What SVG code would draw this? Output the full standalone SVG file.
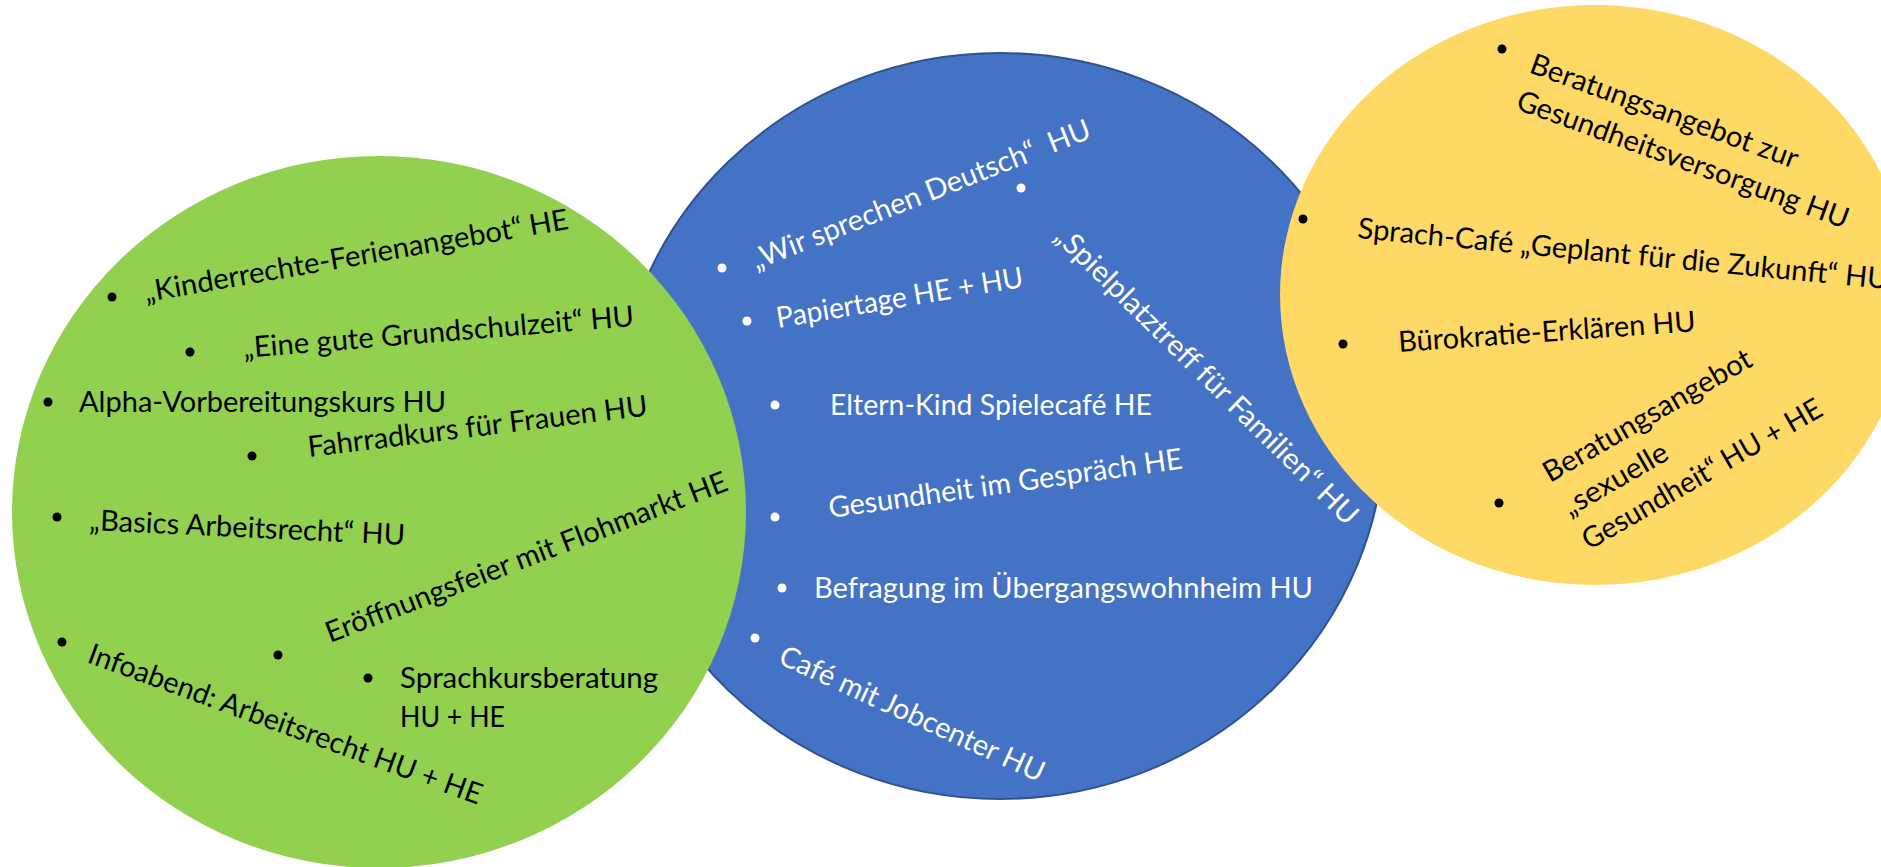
<svg xmlns="http://www.w3.org/2000/svg" width="1881" height="867" viewBox="0 0 1881 867">
<style>
.t{font-family:Lato,"Liberation Sans",sans-serif;font-size:29px}
.dk{fill:#000}
.wt{fill:#fff}
</style>
<rect width="1881" height="867" fill="#fff"/>
<g id="connectors"/>
<g id="node-blue">
<ellipse cx="1000" cy="426" rx="385" ry="373" fill="#4472C4" stroke="#2F528F" stroke-width="2"/>
<g class="wt">
<circle cx="722" cy="268" r="4.5"/>
<circle cx="1021" cy="188" r="4.5"/>
<circle cx="747" cy="321" r="4.5"/>
<circle cx="775" cy="405" r="4.5"/>
<circle cx="775" cy="517" r="4.5"/>
<circle cx="782" cy="588" r="4.5"/>
<circle cx="755" cy="638" r="4.5"/>
</g>
<text class="t wt" xml:space="preserve" transform="translate(756,270) rotate(-21.5)" textLength="362" lengthAdjust="spacingAndGlyphs">„Wir sprechen Deutsch“  HU</text>
<text class="t wt" transform="translate(1053,238) rotate(44.5)" textLength="412" lengthAdjust="spacingAndGlyphs">„Spielplatztreff für Familien“ HU</text>
<text class="t wt" transform="translate(778,328) rotate(-9.5)" textLength="250" lengthAdjust="spacingAndGlyphs">Papiertage HE + HU</text>
<text class="t wt" x="830" y="415" textLength="322" lengthAdjust="spacingAndGlyphs">Eltern-Kind Spielecafé HE</text>
<text class="t wt" transform="translate(830,518) rotate(-8)" textLength="357" lengthAdjust="spacingAndGlyphs">Gesundheit im Gespräch HE</text>
<text class="t wt" x="814" y="598" textLength="499" lengthAdjust="spacingAndGlyphs">Befragung im Übergangswohnheim HU</text>
<text class="t wt" transform="translate(777,663) rotate(24.5)" textLength="288" lengthAdjust="spacingAndGlyphs">Café mit Jobcenter HU</text>
</g>
<g id="node-green">
<ellipse cx="379" cy="512" rx="367" ry="356" fill="#92D050"/>
<g class="dk">
<circle cx="112" cy="297" r="4.5"/>
<circle cx="190" cy="352" r="4.5"/>
<circle cx="48" cy="402" r="4.5"/>
<circle cx="252" cy="456" r="4.5"/>
<circle cx="57" cy="517" r="4.5"/>
<circle cx="278" cy="655" r="4.5"/>
<circle cx="62" cy="642" r="4.5"/>
<circle cx="368" cy="678" r="4.5"/>
</g>
<text class="t dk" transform="translate(146,302) rotate(-9.8)" textLength="430" lengthAdjust="spacingAndGlyphs">„Kinderrechte-Ferienangebot“ HE</text>
<text class="t dk" transform="translate(244,358) rotate(-4.7)" textLength="392" lengthAdjust="spacingAndGlyphs">„Eine gute Grundschulzeit“ HU</text>
<text class="t dk" x="79" y="412" textLength="367" lengthAdjust="spacingAndGlyphs">Alpha-Vorbereitungskurs HU</text>
<text class="t dk" transform="translate(309,457) rotate(-7)" textLength="342" lengthAdjust="spacingAndGlyphs">Fahrradkurs für Frauen HU</text>
<text class="t dk" transform="translate(89,530) rotate(2.7)" textLength="316" lengthAdjust="spacingAndGlyphs">„Basics Arbeitsrecht“ HU</text>
<text class="t dk" transform="translate(330,643) rotate(-21)" textLength="428" lengthAdjust="spacingAndGlyphs">Eröffnungsfeier mit Flohmarkt HE</text>
<text class="t dk" transform="translate(86,662) rotate(20)" textLength="417" lengthAdjust="spacingAndGlyphs">Infoabend: Arbeitsrecht HU + HE</text>
<text class="t dk"><tspan x="400" y="688" textLength="258" lengthAdjust="spacingAndGlyphs">Sprachkursberatung</tspan><tspan x="400" y="727" textLength="105" lengthAdjust="spacingAndGlyphs">HU + HE</tspan></text>
</g>
<g id="node-yellow">
<ellipse cx="1595" cy="295" rx="315" ry="290" fill="#FFD966"/>
<g class="dk">
<circle cx="1502" cy="49" r="4.5"/>
<circle cx="1303" cy="219" r="4.5"/>
<circle cx="1343" cy="344" r="4.5"/>
<circle cx="1499" cy="503" r="4.5"/>
</g>
<text class="t dk" transform="translate(1528,72) rotate(20)"><tspan x="0" y="0" textLength="283" lengthAdjust="spacingAndGlyphs">Beratungsangebot zur</tspan><tspan x="0" y="39" textLength="351" lengthAdjust="spacingAndGlyphs">Gesundheitsversorgung HU</tspan></text>
<text class="t dk" transform="translate(1357,238) rotate(5.5)" textLength="533" lengthAdjust="spacingAndGlyphs">Sprach-Café „Geplant für die Zukunft“ HU</text>
<text class="t dk" transform="translate(1399,352) rotate(-4)" textLength="298" lengthAdjust="spacingAndGlyphs">Bürokratie-Erklären HU</text>
<text class="t dk" transform="translate(1550,483) rotate(-30)"><tspan x="0" y="0" textLength="236" lengthAdjust="spacingAndGlyphs">Beratungsangebot</tspan><tspan x="0" y="39" textLength="117" lengthAdjust="spacingAndGlyphs">„sexuelle</tspan><tspan x="0" y="78" textLength="272" lengthAdjust="spacingAndGlyphs">Gesundheit“ HU + HE</tspan></text>
</g>
</svg>
